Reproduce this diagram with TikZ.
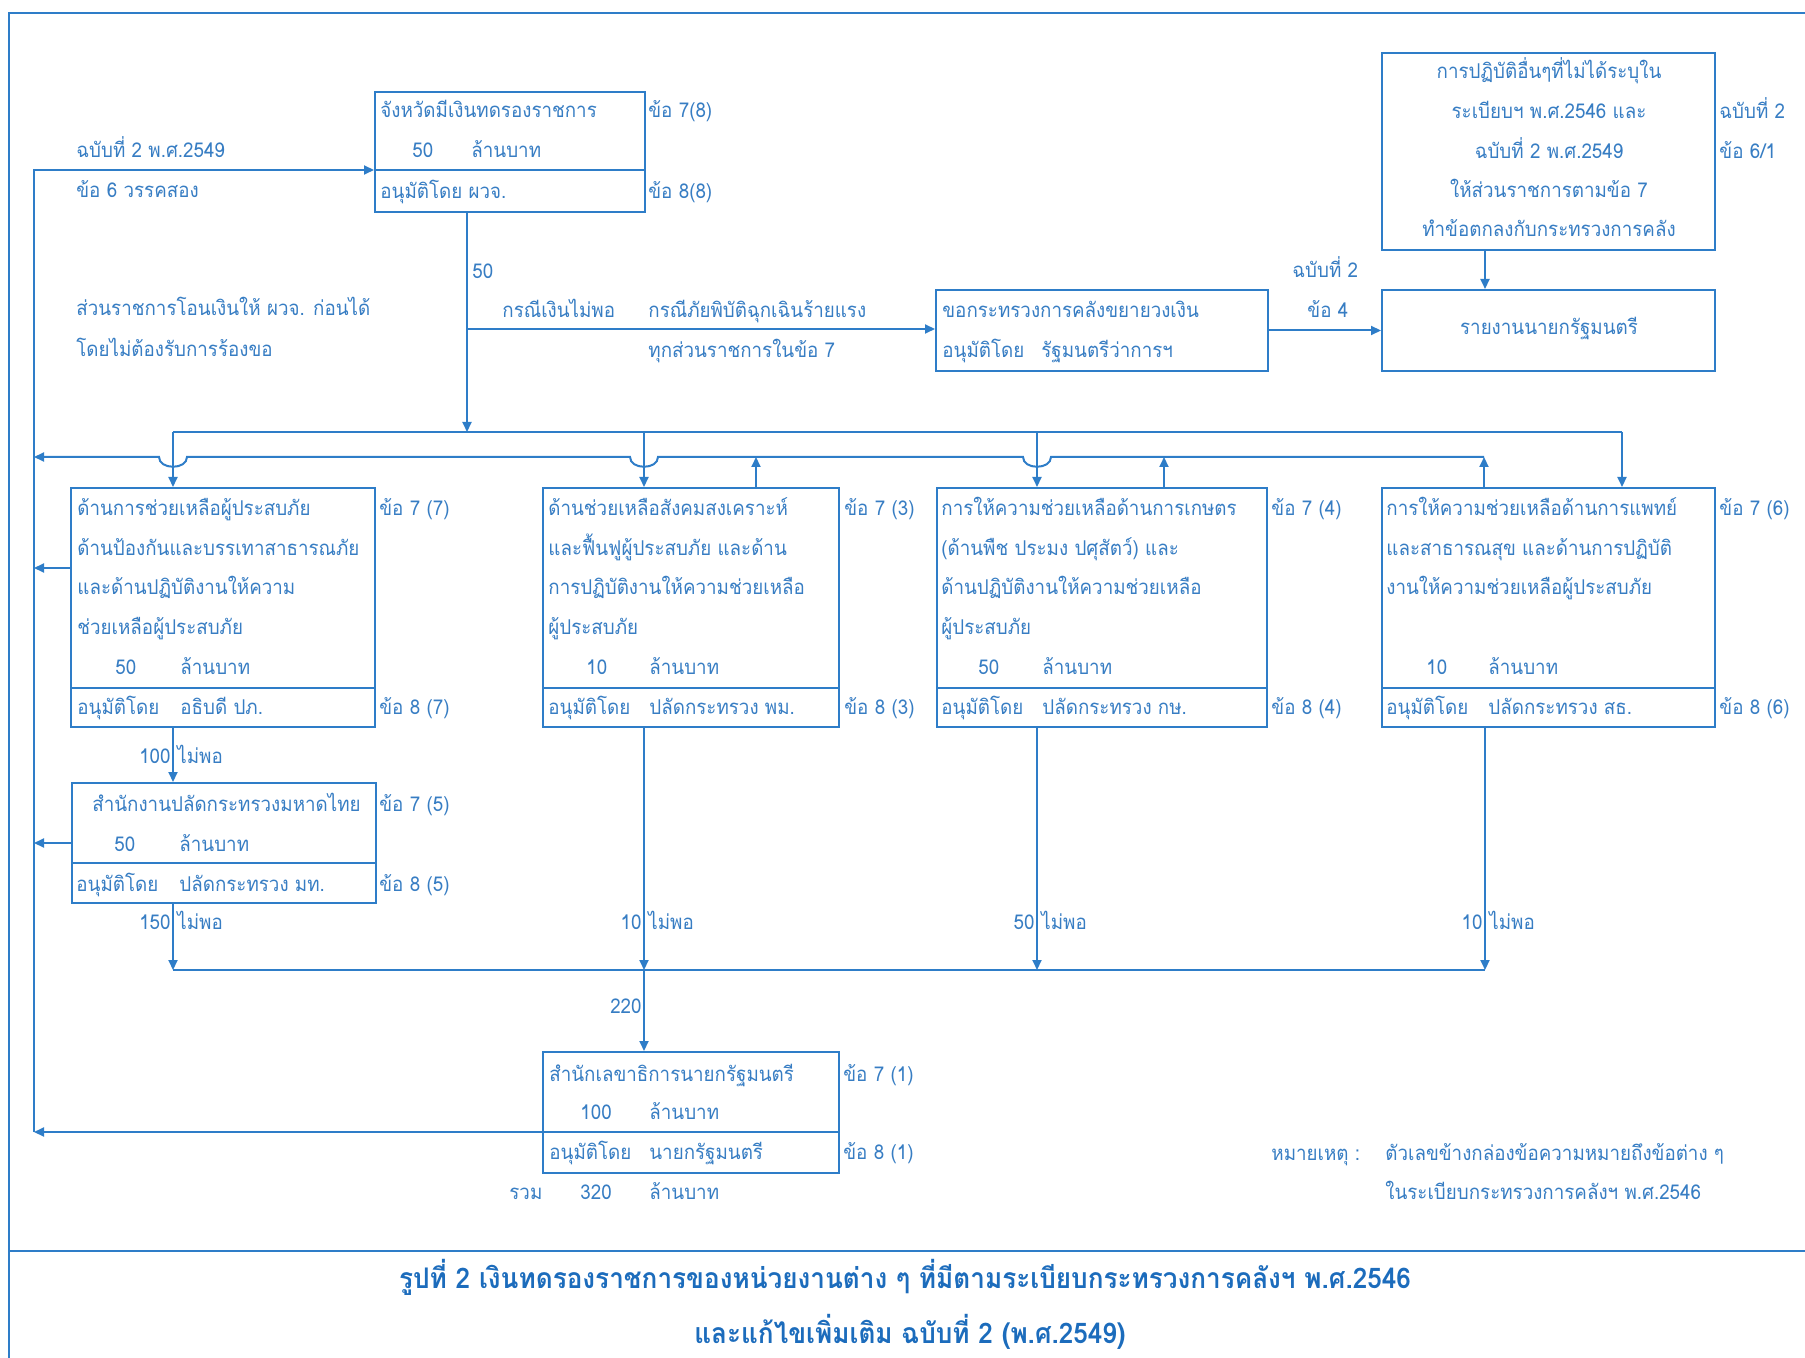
\documentclass[tikz,border=0pt]{standalone}
\usepackage{fontspec}
\setmainfont{Loma}[Script=Thai,FakeStretch=0.92]
\usetikzlibrary{arrows.meta,fit}
\definecolor{lnc}{RGB}{46,125,200}
\definecolor{txc}{RGB}{55,125,195}
\definecolor{capc}{RGB}{28,108,188}
\newcommand{\TxL}[4]{\node[tx,anchor=base west] (#1) at (#2,#3+6) {#4};}
\newcommand{\TxR}[4]{\node[tx,anchor=base east] (#1) at (#2,#3+6) {#4};}
\newcommand{\TxC}[4]{\node[tx,anchor=base] (#1) at (#2,#3+6) {#4};}
\begin{document}
\begin{tikzpicture}[x=0.5pt,y=-0.5pt,
  tx/.style={inner sep=0pt,text=txc,font=\fontsize{10.2pt}{12pt}\selectfont},
  captxt/.style={inner sep=0pt,text=capc,anchor=base,font=\fontsize{14.2pt}{16pt}\selectfont\bfseries},
  ln/.style={draw=lnc,line width=1pt},
  arr/.style={ln,-{Triangle[length=5pt,width=4.5pt]}},
  box/.style={draw=lnc,line width=1pt,inner sep=0pt}]
\useasboundingbox (0,0) rectangle (1805,1358);
% frame
\draw[ln] (1805,13) -- (9,13) -- (9,1358);
\draw[ln] (9,1251) -- (1805,1251);

% boxes
\node[box,fit={(375,92)(645,212)}] (J) {};
\draw[ln] (375,170) -- (645,170);
\node[box,fit={(936,290)(1268,371)}] (K) {};
\node[box,fit={(1382,290)(1715,371)}] (R) {};
\node[box,fit={(1382,53)(1715,250)}] (TR) {};
\node[box,fit={(71,488)(375,727)}] (A) {};
\draw[ln] (71,688) -- (375,688);
\node[box,fit={(543,488)(839,727)}] (B) {};
\draw[ln] (543,688) -- (839,688);
\node[box,fit={(937,488)(1267,727)}] (C) {};
\draw[ln] (937,688) -- (1267,688);
\node[box,fit={(1382,488)(1715,727)}] (D) {};
\draw[ln] (1382,688) -- (1715,688);
\node[box,fit={(72,783)(376,903)}] (E) {};
\draw[ln] (72,863) -- (376,863);
\node[box,fit={(543,1052)(839,1173)}] (F) {};
\draw[ln] (543,1132) -- (839,1132);

% coordinates
\coordinate (lF) at (34,1132);
\coordinate (lTop) at (34,170);
\coordinate (aL) at (34,568);
\coordinate (eL) at (34,843);
\coordinate (br) at (467,329);
\coordinate (jd) at (467,432);
\coordinate (trd) at (1485,250);
\coordinate (u1) at (173,432);
\coordinate (u2) at (644,432);
\coordinate (u3) at (1037,432);
\coordinate (u4) at (1622,432);
\coordinate (lbR) at (1484,457);
\coordinate (lbL) at (34,457);
\coordinate (bUp) at (756,457);
\coordinate (cUp) at (1164,457);
\coordinate (bb1) at (173,970);
\coordinate (bb2) at (644,970);
\coordinate (bb3) at (1037,970);
\coordinate (bb4) at (1485,970);

% left collecting line
\draw[arr] (F.west |- lF) -- (lF);
\draw[arr] (lF) -- (lTop) -- (lTop -| J.west);
\draw[arr] (A.west |- aL) -- (aL);
\draw[arr] (E.west |- eL) -- (eL);

% top flows
\draw[arr] (jd |- J.south) -- (jd);
\draw[arr] (br) -- (br -| K.west);
\draw[arr] (K.east) -- (K.east -| R.west);
\draw[arr] (trd) -- (trd |- R.north);

% upper bus
\draw[ln] (u1) -- (u4);
\draw[arr] (u1) -- (u1 |- A.north);
\draw[arr] (u2) -- (u2 |- B.north);
\draw[arr] (u3) -- (u3 |- C.north);
\draw[arr] (u4) -- (u4 |- D.north);

% lower bus with hops
\draw[arr] (lbR) -- (1051,457) .. controls (1051,470) and (1023,470) .. (1023,457)
  -- (658,457) .. controls (658,470) and (630,470) .. (630,457)
  -- (187,457) .. controls (187,470) and (159,470) .. (159,457) -- (lbL);
\draw[arr] (bUp |- B.north) -- (bUp);
\draw[arr] (cUp |- C.north) -- (cUp);
\draw[arr] (lbR |- D.north) -- (lbR);

% lower flows
\draw[arr] (u1 |- A.south) -- (u1 |- E.north);
\draw[arr] (u1 |- E.south) -- (bb1);
\draw[arr] (u2 |- B.south) -- (bb2);
\draw[arr] (u3 |- C.south) -- (bb3);
\draw[arr] (bb4 |- D.south) -- (bb4);
\draw[ln] (bb1) -- (bb4);
\draw[arr] (bb2) -- (bb2 |- F.north);

% J box texts
\TxL{tJ1}{380}{112}{จังหวัดมีเงินทดรองราชการ}
\TxL{tJ2}{412}{152}{50}
\TxL{tJ3}{471}{152}{ล้านบาท}
\TxL{tJ4}{380}{193}{อนุมัติโดย ผวจ.}
\TxL{tJ5}{648}{112}{ข้อ 7(8)}
\TxL{tJ6}{648}{193}{ข้อ 8(8)}
% left texts
\TxL{tL1}{76}{152}{ฉบับที่ 2 พ.ศ.2549}
\TxL{tL2}{76}{192}{ข้อ 6 วรรคสอง}
\TxL{tL3}{76}{310}{ส่วนราชการโอนเงินให้ ผวจ. ก่อนได้}
\TxL{tL4}{76}{351}{โดยไม่ต้องรับการร้องขอ}
% branch texts
\TxL{tB0}{472}{273}{50}
\TxL{tB1}{502}{312}{กรณีเงินไม่พอ}
\TxL{tB2}{648}{312}{กรณีภัยพิบัติฉุกเฉินร้ายแรง}
\TxL{tB3}{648}{352}{ทุกส่วนราชการในข้อ 7}
% K, R, TR
\TxL{tK1}{942}{312}{ขอกระทรวงการคลังขยายวงเงิน}
\TxL{tK2}{942}{352}{อนุมัติโดย}
\TxL{tK3}{1041}{352}{รัฐมนตรีว่าการฯ}
\TxL{tK4}{1292}{272}{ฉบับที่ 2}
\TxL{tK5}{1307}{312}{ข้อ 4}
\TxC{tR1}{1549}{329}{รายงานนายกรัฐมนตรี}
\TxC{tT1}{1549}{73}{การปฏิบัติอื่นๆที่ไม่ได้ระบุใน}
\TxC{tT2}{1549}{113}{ระเบียบฯ พ.ศ.2546 และ}
\TxC{tT3}{1549}{153}{ฉบับที่ 2 พ.ศ.2549}
\TxC{tT4}{1549}{192}{ให้ส่วนราชการตามข้อ 7}
\TxC{tT5}{1549}{231}{ทำข้อตกลงกับกระทรวงการคลัง}
\TxL{tT6}{1719}{113}{ฉบับที่ 2}
\TxL{tT7}{1719}{153}{ข้อ 6/1}
% box A
\TxL{tA1}{77}{510}{ด้านการช่วยเหลือผู้ประสบภัย}
\TxL{tA2}{77}{549}{ด้านป้องกันและบรรเทาสาธารณภัย}
\TxL{tA3}{77}{589}{และด้านปฏิบัติงานให้ความ}
\TxL{tA4}{77}{628}{ช่วยเหลือผู้ประสบภัย}
\TxL{tA5}{115}{668}{50}
\TxL{tA6}{180}{668}{ล้านบาท}
\TxL{tA7}{77}{708}{อนุมัติโดย}
\TxL{tA8}{180}{708}{อธิบดี ปภ.}
\TxL{tA9}{379}{510}{ข้อ 7 (7)}
\TxL{tA10}{379}{708}{ข้อ 8 (7)}
% box B
\TxL{tBb1}{548}{510}{ด้านช่วยเหลือสังคมสงเคราะห์}
\TxL{tBb2}{548}{549}{และฟื้นฟูผู้ประสบภัย และด้าน}
\TxL{tBb3}{548}{589}{การปฏิบัติงานให้ความช่วยเหลือ}
\TxL{tBb4}{548}{628}{ผู้ประสบภัย}
\TxL{tBb5}{586}{668}{10}
\TxL{tBb6}{649}{668}{ล้านบาท}
\TxL{tBb7}{548}{708}{อนุมัติโดย}
\TxL{tBb8}{649}{708}{ปลัดกระทรวง พม.}
\TxL{tBb9}{844}{510}{ข้อ 7 (3)}
\TxL{tBb10}{844}{708}{ข้อ 8 (3)}
% box C
\TxL{tC1}{941}{510}{การให้ความช่วยเหลือด้านการเกษตร}
\TxL{tC2}{941}{549}{(ด้านพืช ประมง ปศุสัตว์) และ}
\TxL{tC3}{941}{589}{ด้านปฏิบัติงานให้ความช่วยเหลือ}
\TxL{tC4}{941}{628}{ผู้ประสบภัย}
\TxL{tC5}{978}{668}{50}
\TxL{tC6}{1042}{668}{ล้านบาท}
\TxL{tC7}{941}{708}{อนุมัติโดย}
\TxL{tC8}{1042}{708}{ปลัดกระทรวง กษ.}
\TxL{tC9}{1271}{510}{ข้อ 7 (4)}
\TxL{tC10}{1271}{708}{ข้อ 8 (4)}
% box D
\TxL{tD1}{1386}{510}{การให้ความช่วยเหลือด้านการแพทย์}
\TxL{tD2}{1386}{549}{และสาธารณสุข และด้านการปฏิบัติ}
\TxL{tD3}{1386}{589}{งานให้ความช่วยเหลือผู้ประสบภัย}
\TxL{tD5}{1426}{668}{10}
\TxL{tD6}{1488}{668}{ล้านบาท}
\TxL{tD7}{1386}{708}{อนุมัติโดย}
\TxL{tD8}{1488}{708}{ปลัดกระทรวง สธ.}
\TxL{tD9}{1719}{510}{ข้อ 7 (6)}
\TxL{tD10}{1719}{708}{ข้อ 8 (6)}
% box E
\TxL{tE1}{92}{805}{สำนักงานปลัดกระทรวงมหาดไทย}
\TxL{tE2}{114}{845}{50}
\TxL{tE3}{179}{845}{ล้านบาท}
\TxL{tE4}{76}{885}{อนุมัติโดย}
\TxL{tE5}{179}{885}{ปลัดกระทรวง มท.}
\TxL{tE6}{379}{805}{ข้อ 7 (5)}
\TxL{tE7}{379}{885}{ข้อ 8 (5)}
% flow labels
\TxR{tN1}{171}{757}{100}
\TxL{tN2}{177}{757}{ไม่พอ}
\TxR{tN3}{171}{923}{150}
\TxL{tN4}{177}{923}{ไม่พอ}
\TxR{tN5}{642}{923}{10}
\TxL{tN6}{648}{923}{ไม่พอ}
\TxR{tN7}{1035}{923}{50}
\TxL{tN8}{1041}{923}{ไม่พอ}
\TxR{tN9}{1483}{923}{10}
\TxL{tN10}{1489}{923}{ไม่พอ}
\TxR{tN11}{642}{1007}{220}
% box F
\TxL{tF1}{549}{1075}{สำนักเลขาธิการนายกรัฐมนตรี}
\TxL{tF2}{580}{1113}{100}
\TxL{tF3}{649}{1113}{ล้านบาท}
\TxL{tF4}{549}{1153}{อนุมัติโดย}
\TxL{tF5}{649}{1153}{นายกรัฐมนตรี}
\TxL{tF6}{843}{1075}{ข้อ 7 (1)}
\TxL{tF7}{843}{1153}{ข้อ 8 (1)}
\TxL{tF8}{509}{1193}{รวม}
\TxL{tF9}{580}{1193}{320}
\TxL{tF10}{649}{1193}{ล้านบาท}
% note
\TxL{tM1}{1271}{1154}{หมายเหตุ :}
\TxL{tM2}{1385}{1154}{ตัวเลขข้างกล่องข้อความหมายถึงข้อต่าง ๆ}
\TxL{tM3}{1385}{1193}{ในระเบียบกระทรวงการคลังฯ พ.ศ.2546}
% caption
\node[captxt] (cap1) at (905,1288) {รูปที่ 2 เงินทดรองราชการของหน่วยงานต่าง ๆ ที่มีตามระเบียบกระทรวงการคลังฯ พ.ศ.2546};
\node[captxt] (cap2) at (910,1343) {และแก้ไขเพิ่มเติม ฉบับที่ 2 (พ.ศ.2549)};
\end{tikzpicture}
\end{document}
